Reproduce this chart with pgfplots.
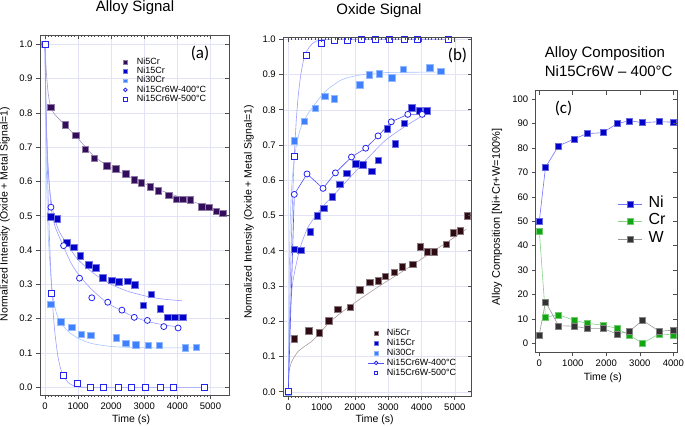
\documentclass[border=0pt]{standalone}
\usepackage{fontspec}
\setmainfont{Liberation Sans}
\newfontfamily\panelfont{Carlito}
\usepackage{pgfplots}
\pgfplotsset{compat=1.18}

\definecolor{framec}{HTML}{4D4D4D}
\definecolor{gridc}{HTML}{E3E3F7}
\definecolor{nifivea}{HTML}{330D5C}
\definecolor{nifiveb}{HTML}{2E0B12}
\definecolor{nififteen}{HTML}{0000C8}
\definecolor{nithirty}{HTML}{3F80FF}
\definecolor{openblue}{HTML}{2424F0}
\definecolor{fitpurple}{HTML}{A496C6}
\definecolor{fitbrown}{HTML}{B09C9E}
\definecolor{fitblue}{HTML}{9C9CFF}
\definecolor{fitlight}{HTML}{A8C4FF}
\definecolor{crgreen}{HTML}{12A612}
\definecolor{wgray}{HTML}{333333}

\pgfplotsset{
  framed/.style={scale only axis, axis line style={draw=framec, line width=0.9pt},
    tick style={draw=framec, line width=0.6pt}, major tick length=4pt, minor tick length=2pt},
  panel/.style={framed, tick align=outside, xtick pos=left, ytick pos=left,
    tick label style={font=\fontsize{9.5}{10}\selectfont},
    /pgf/number format/assume math mode=true,
    label style={font=\fontsize{10.5}{12}\selectfont},
    legend cell align=left,
    legend style={draw=none, fill=none, inner sep=0pt, outer sep=0pt,
      font=\fontsize{9}{10}\selectfont, row sep=0pt,
      nodes={inner sep=0.4pt, text height=6.5pt, text depth=2pt}}},
  mirror/.style={framed, tick align=inside, xtick pos=right, ytick pos=right,
    xticklabels={}, yticklabels={}},
  sq/.style={only marks, mark=square*, mark size=3.3pt,
    mark options={fill=#1, draw=#1!55!white, line width=0.4pt}},
  opensq/.style={only marks, mark=square*, mark size=3pt,
    mark options={draw=openblue, fill=white, line width=0.8pt}},
  opencirc/.style={mark=*, mark size=3pt,
    mark options={draw=openblue, fill=white, line width=0.8pt}},
  fit/.style={no marks, smooth, tension=0.4, line width=0.6pt, draw=#1, forget plot},
  legA/.style={legend image code/.code={\path[draw=none, fill=none] (0pt,-2pt) rectangle (15pt,2pt);
    \draw[##1, mark size=1.8pt, every mark/.append style={draw=none}] plot coordinates {(4pt,0pt)};}},
  legAo/.style={legend image code/.code={\path[draw=none, fill=none] (0pt,-2pt) rectangle (15pt,2pt);
    \draw[##1, mark size=1.8pt] plot coordinates {(4pt,0pt)};}},
  legB/.style={legend image code/.code={\path[draw=none, fill=none] (0pt,-2pt) rectangle (18pt,2pt);
    \draw[##1, mark size=1.8pt, every mark/.append style={draw=none}] plot coordinates {(7.7pt,0pt)};}},
  legBo/.style={legend image code/.code={\path[draw=none, fill=none] (0pt,-2pt) rectangle (18pt,2pt);
    \draw[##1, mark size=1.8pt] plot coordinates {(7.7pt,0pt)};}},
  legBline/.style={legend image code/.code={\path[draw=none, fill=none] (0pt,-2pt) rectangle (18pt,2pt);
    \draw[##1, mark size=1.8pt, mark repeat=2, mark phase=2]
      plot coordinates {(0pt,0pt)(7.7pt,0pt)(15.4pt,0pt)};}},
  legC/.style={legend image code/.code={\path[draw=none, fill=none] (0pt,-2pt) rectangle (30pt,2pt);
    \draw[##1, mark repeat=2, mark phase=2]
      plot coordinates {(0pt,0pt)(12pt,0pt)(24pt,0pt)};}},
}

\begin{document}
\begin{tikzpicture}[x=1pt,y=1pt]
\useasboundingbox (0,0) rectangle (685,426);

% ---------------- (a) Alloy Signal ----------------
\begin{axis}[panel, name=pa, at={(40pt,31pt)}, anchor=south west,
  width=189.3pt, height=360pt,
  xmin=-150, xmax=5568, ymin=-0.0224, ymax=1.027,
  xtick={0,1000,...,5000}, minor x tick num=9,
  ytick={0,0.1,...,1.0},
  yticklabel style={/pgf/number format/.cd, fixed, fixed zerofill, precision=1},
  scaled x ticks=false,
  xticklabel style={/pgf/number format/1000 sep={}},
  grid=major, major grid style={draw=gridc, line width=0.5pt},
  xlabel={Time (s)},
  ylabel={Normalized Intensity (Oxide + Metal Signal=1)},
  xlabel style={at={(axis description cs:0.481,-0.069)}, anchor=center},
  ylabel style={at={(axis description cs:-0.185,0.503)}, anchor=center},
  legend style={at={(axis description cs:0.43,0.938)}, anchor=north west},
]
\addplot[fit=fitpurple] coordinates {(0,1)(40,0.92)(100,0.855)(180,0.815)(300,0.795)(450,0.78)(613,0.764)(800,0.745)(1000,0.725)(1500,0.672)(2000,0.640)(2500,0.616)(3000,0.594)(3500,0.574)(4000,0.557)(4500,0.540)(5000,0.524)(5372,0.512)};
\addplot[fit=fitblue] coordinates {(0,1)(30,0.8)(80,0.66)(150,0.57)(250,0.51)(400,0.46)(650,0.42)(1000,0.372)(1500,0.33)(2000,0.30)(2500,0.28)(3000,0.267)(3500,0.258)(4152,0.252)};
\addplot[fit=fitlight] coordinates {(0,1)(20,0.8)(50,0.6)(100,0.44)(180,0.32)(250,0.26)(350,0.215)(500,0.185)(700,0.163)(1000,0.143)(1400,0.128)(2000,0.119)(2700,0.116)(3500,0.115)(4574,0.115)};
\addplot[fit=fitblue] coordinates {(0,1)(30,0.82)(80,0.67)(180,0.53)(300,0.47)(562,0.41)(800,0.36)(1043,0.325)(1415,0.285)(1897,0.245)(2324,0.223)(2697,0.205)(3093,0.192)(3589,0.182)(4022,0.176)};
\addplot[fit=fitblue] coordinates {(0,1)(30,0.832)(60,0.692)(100,0.541)(140,0.424)(180,0.331)(240,0.229)(300,0.159)(380,0.097)(460,0.059)(553,0.034)(700,0.014)(850,0.005)(1000,0.002)(1300,0)(4806,0)};

\addplot[sq=nifivea, legA] coordinates {(0,1.0)(180,0.816)(613,0.765)(930,0.735)(1210,0.694)(1492,0.668)(1858,0.646)(2139,0.637)(2440,0.622)(2701,0.605)(2912,0.596)(3183,0.584)(3415,0.573)(3735,0.560)(3962,0.548)(4167,0.548)(4384,0.547)(4739,0.527)(4951,0.525)(5167,0.513)(5372,0.507)};
\addlegendentry{Ni5Cr}
\addplot[sq=nififteen, legA] coordinates {(0,1.0)(181,0.497)(372,0.492)(654,0.422)(869,0.409)(1065,0.383)(1321,0.357)(1540,0.349)(1752,0.319)(2024,0.312)(2229,0.307)(2500,0.309)(2702,0.300)(2973,0.239)(3213,0.271)(3485,0.229)(3710,0.204)(3926,0.204)(4152,0.204)};
\addlegendentry{Ni15Cr}
\addplot[sq=nithirty, legA] coordinates {(0,1.0)(180,0.242)(472,0.192)(805,0.175)(1089,0.155)(1381,0.152)(2149,0.144)(2431,0.129)(2732,0.124)(3113,0.123)(3445,0.123)(4238,0.115)(4574,0.117)};
\addlegendentry{Ni30Cr}
\addplot[opencirc, only marks, legAo] coordinates {(0,1.0)(180,0.525)(562,0.413)(1043,0.318)(1415,0.261)(1897,0.248)(2324,0.225)(2697,0.204)(3093,0.195)(3589,0.177)(4022,0.173)};
\addlegendentry{Ni15Cr6W-400°C}
\addplot[opensq, legAo] coordinates {(0,1.0)(180,0.273)(553,0.036)(987,0.010)(1370,0.0)(1763,0)(2210,0)(2616,0)(3023,0)(3475,0)(3892,0)(4806,0)};
\addlegendentry{Ni15Cr6W-500°C}
\end{axis}
\begin{axis}[mirror, at={(40pt,31pt)}, anchor=south west, width=189.3pt, height=360pt,
  xmin=-150, xmax=5568, ymin=-0.0224, ymax=1.027,
  xtick={0,1000,...,5000}, minor x tick num=9, ytick={0,0.1,...,1.0}]
\end{axis}

% ---------------- (b) Oxide Signal ----------------
\begin{axis}[panel, name=pb, at={(283.3pt,30pt)}, anchor=south west,
  width=188.4pt, height=358.3pt,
  xmin=-150, xmax=5508, ymin=-0.012, ymax=1.0045,
  xtick={0,1000,...,5000}, minor x tick num=9,
  ytick={0,0.1,...,1.0},
  yticklabel style={/pgf/number format/.cd, fixed, fixed zerofill, precision=1},
  scaled x ticks=false,
  xticklabel style={/pgf/number format/1000 sep={}},
  grid=major, major grid style={draw=gridc, line width=0.5pt},
  xlabel={Time (s)},
  ylabel={Normalized Intensity (Oxide + Metal Signal=1)},
  xlabel style={at={(axis description cs:0.485,-0.067)}, anchor=center},
  ylabel style={at={(axis description cs:-0.182,0.514)}, anchor=center},
  legend style={at={(axis description cs:0.45,0.19)}, anchor=north west,
    nodes={text height=6.9pt, text depth=2.3pt}},
]
\addplot[fit=fitbrown] coordinates {(0,0.03)(30,0.06)(100,0.085)(300,0.115)(750,0.147)(1250,0.198)(1750,0.236)(2260,0.27)(2770,0.302)(3290,0.333)(3800,0.364)(4260,0.393)(4780,0.425)(5340,0.461)};
\addplot[fit=fitblue] coordinates {(0,0)(20,0.12)(60,0.23)(120,0.3)(200,0.345)(360,0.41)(600,0.468)(1030,0.525)(1600,0.582)(2260,0.65)(2900,0.712)(3490,0.752)(4010,0.782)};
\addplot[fit=fitlight] coordinates {(0,0)(20,0.25)(50,0.45)(100,0.58)(200,0.676)(360,0.745)(600,0.79)(1100,0.851)(1600,0.885)(2050,0.897)(2600,0.904)(3100,0.906)(4574,0.907)};
\addplot[fit=fitblue] coordinates {(0,0)(30,0.168)(60,0.308)(100,0.459)(140,0.576)(180,0.669)(240,0.771)(300,0.841)(380,0.903)(460,0.941)(553,0.966)(700,0.986)(850,0.995)(1000,0.998)(1300,1.0)(4806,1.0)};

\addplot[sq=nifiveb, legB] coordinates {(0,0)(180,0.150)(613,0.174)(930,0.168)(1210,0.201)(1492,0.234)(1858,0.240)(2139,0.289)(2440,0.311)(2701,0.315)(2912,0.328)(3183,0.339)(3415,0.355)(3735,0.362)(3962,0.411)(4167,0.397)(4384,0.397)(4739,0.419)(4951,0.451)(5167,0.457)(5372,0.499)};
\addlegendentry{Ni5Cr}
\addplot[sq=nififteen, legB] coordinates {(0,0)(181,0.404)(372,0.402)(654,0.454)(869,0.499)(1065,0.521)(1321,0.553)(1540,0.589)(1752,0.620)(2024,0.647)(2229,0.644)(2500,0.626)(2702,0.657)(2973,0.746)(3213,0.703)(3485,0.762)(3710,0.806)(3926,0.797)(4152,0.798)};
\addlegendentry{Ni15Cr}
\addplot[sq=nithirty, legB] coordinates {(0,0)(180,0.712)(472,0.768)(805,0.804)(1089,0.839)(1381,0.831)(2149,0.872)(2431,0.900)(2732,0.903)(3113,0.891)(3445,0.915)(4238,0.919)(4574,0.909)};
\addlegendentry{Ni30Cr}
\addplot[opencirc, draw=openblue!80, line width=0.6pt, legBline] coordinates {(0,0)(180,0.560)(562,0.618)(1043,0.577)(1415,0.621)(1897,0.666)(2324,0.691)(2697,0.726)(3093,0.766)(3589,0.787)(4022,0.787)};
\addlegendentry{Ni15Cr6W-400°C}
\addplot[opensq, legBo] coordinates {(0,0)(180,0.669)(553,0.955)(987,0.988)(1370,0.997)(1763,0.997)(2210,1.0)(2616,1.0)(3023,1.0)(3475,1.0)(3892,1.0)(4806,1.0)};
\addlegendentry{Ni15Cr6W-500°C}
\end{axis}
\begin{axis}[mirror, at={(283.3pt,30pt)}, anchor=south west, width=188.4pt, height=358.3pt,
  xmin=-150, xmax=5508, ymin=-0.012, ymax=1.0045,
  xtick={0,1000,...,5000}, minor x tick num=9, ytick={0,0.1,...,1.0}]
\end{axis}

% ---------------- (c) Alloy Composition ----------------
\begin{axis}[panel, name=pc, at={(535.7pt,73.7pt)}, anchor=south west,
  width=141.6pt, height=261.6pt,
  xmin=-107, xmax=4119, ymin=-3.7, ymax=103.5,
  xtick={0,1000,...,4000}, ytick={0,10,...,100},
  scaled x ticks=false,
  xticklabel style={/pgf/number format/1000 sep={}},
  xlabel={Time (s)},
  ylabel={Alloy Composition [Ni+Cr+W=100\%]},
  xlabel style={at={(axis description cs:0.474,-0.098)}, anchor=center},
  ylabel style={at={(axis description cs:-0.273,0.517)}, anchor=center, font=\fontsize{11}{12}\selectfont},
  legend style={at={(axis description cs:0.581,0.6)}, anchor=north west,
    font=\fontsize{16}{17}\selectfont,
    nodes={inner sep=0.4pt, text height=11.7pt, text depth=5pt}},
]
\addplot[draw=blue!55, line width=0.6pt, mark=square*, mark size=3pt,
  mark options={fill=nififteen, draw=nififteen!60!white, line width=0.4pt}, legC]
  coordinates {(0,50.1)(185,72.1)(575,80.9)(1040,83.7)(1415,85.9)(1895,86.3)(2320,90.0)(2688,91.2)(3084,90.4)(3580,90.8)(4005,90.6)};
\addlegendentry{Ni}
\addplot[draw=crgreen!50, line width=0.6pt, mark=square*, mark size=3pt,
  mark options={fill=crgreen, draw=crgreen!60!white, line width=0.4pt}, legC]
  coordinates {(0,46.1)(185,10.7)(575,11.7)(1040,9.4)(1415,8.2)(1895,7.4)(2320,6.1)(2688,3.3)(3084,0.0)(3580,3.9)(4005,3.4)};
\addlegendentry{Cr}
\addplot[draw=black!40, line width=0.6pt, mark=square*, mark size=3pt,
  mark options={fill=wgray, draw=wgray!60!white, line width=0.4pt}, legC]
  coordinates {(0,3.5)(185,17.0)(575,7.2)(1040,7.0)(1415,6.1)(1895,6.1)(2320,3.8)(2688,4.9)(3084,9.4)(3580,4.9)(4005,5.4)};
\addlegendentry{W}
\end{axis}
\begin{axis}[mirror, at={(535.7pt,73.7pt)}, anchor=south west, width=141.6pt, height=261.6pt,
  xmin=-107, xmax=4119, ymin=-3.7, ymax=103.5,
  xtick={0,1000,...,4000}, ytick={0,10,...,100}]
\end{axis}

% titles and panel tags
\node[font=\fontsize{15}{17}\selectfont, anchor=base] at (135,414) {Alloy Signal};
\node[font=\fontsize{15}{17}\selectfont, anchor=base] at (379,411.5) {Oxide Signal};
\node[font=\fontsize{15}{17}\selectfont, anchor=base] at (605,368.7) {Alloy Composition};
\node[font=\fontsize{15}{17}\selectfont, anchor=base] at (608.7,349.3) {Ni15Cr6W – 400°C};
\node[font=\panelfont\fontsize{17}{19}\selectfont] at (200,373) {(a)};
\node[font=\panelfont\fontsize{17}{19}\selectfont] at (457.5,371) {(b)};
\node[font=\panelfont\fontsize{17}{19}\selectfont] at (563.5,318) {(c)};
\end{tikzpicture}
\end{document}
